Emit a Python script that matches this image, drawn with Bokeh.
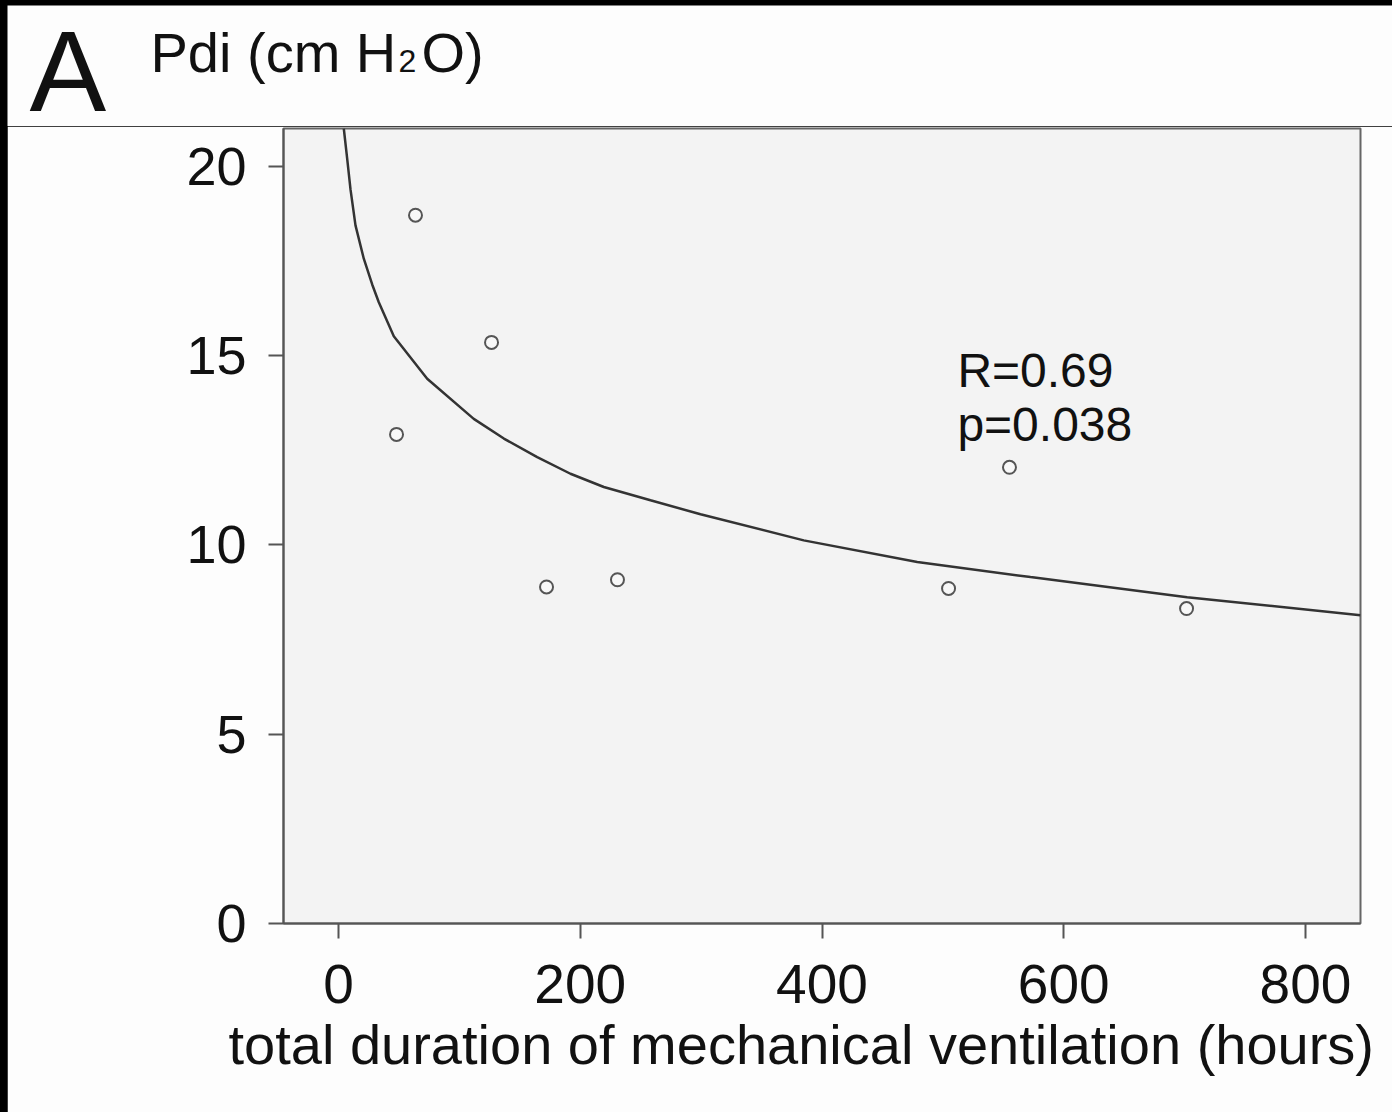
import re
from bokeh.plotting import figure
from bokeh.models import Range1d, FixedTicker, Label, Title
from bokeh.embed import file_html
from bokeh.resources import INLINE

# scatter data: total duration of mechanical ventilation (hours) vs Pdi (cm H2O)
hours = [48.0, 63.7, 126.6, 172.1, 230.8, 504.7, 555.1, 701.6]
pdi = [12.92, 18.71, 15.35, 8.89, 9.08, 8.85, 12.05, 8.32]

# fitted curve
curve_x = [4.38, 7.20, 9.93, 14.06, 20.93, 27.88, 33.34, 45.75, 73.38, 111.9,
           136.8, 164.4, 191.9, 219.5, 258.1, 299.5, 384.9, 478.8, 572.5,
           702.1, 845.5]
curve_y = [21.0, 20.20, 19.39, 18.44, 17.56, 16.88, 16.41, 15.51, 14.39, 13.33,
           12.81, 12.32, 11.88, 11.53, 11.18, 10.81, 10.12, 9.55, 9.15,
           8.62, 8.14]

x_ticks = [0, 200, 400, 600, 800]
y_ticks = [0, 5, 10, 15, 20]

FONT = "Liberation Sans"
INK = "#111111"

# ---- header strip holding the panel letter and the y-axis title ----
head = figure(width=1385, height=121, output_backend="svg", toolbar_location=None,
              x_range=Range1d(0, 1385), y_range=Range1d(0, 121),
              x_axis_type=None, y_axis_type=None,
              min_border_left=0, min_border_right=0, min_border_top=0,
              min_border_bottom=0)
head.background_fill_color = "#fdfdfd"
head.border_fill_color = "#fdfdfd"
head.outline_line_color = None
head.grid.visible = False


def hlab(x, y, text, size):
    head.add_layout(Label(x=x, y=y, text=text, text_font=FONT, text_font_size=size,
                          text_color=INK, text_baseline="alphabetic",
                          text_align="left"))


hlab(22, 56, "A", "115px")
hlab(143, 74, "Pdi (cm H", "56px")
hlab(391, 66, "2", "32px")
hlab(414, 74, "O)", "56px")

# ---- main scatter plot ----
p = figure(width=1385, height=986, output_backend="svg", toolbar_location=None,
           x_range=Range1d(-45.5, 845.5), y_range=Range1d(0, 21.0),
           min_border_left=276, min_border_right=32, min_border_top=2,
           min_border_bottom=189)
p.background_fill_color = "#f3f3f3"
p.border_fill_color = "#fdfdfd"
p.outline_line_color = "#666666"
p.outline_line_width = 2
p.grid.visible = False

for ax in (p.xaxis[0], p.yaxis[0]):
    ax.axis_line_color = "#555555"
    ax.axis_line_width = 2
    ax.major_tick_line_color = "#555555"
    ax.major_tick_line_width = 2
    ax.major_tick_out = 15
    ax.major_tick_in = 0
    ax.minor_tick_line_color = None
    ax.major_label_text_font = FONT
    ax.major_label_text_color = INK

p.xaxis.ticker = FixedTicker(ticks=x_ticks)
p.yaxis.ticker = FixedTicker(ticks=y_ticks)
p.xaxis.major_label_text_font_size = "55px"
p.yaxis.major_label_text_font_size = "54px"
p.xaxis.major_label_standoff = 26
p.yaxis.major_label_standoff = 22

p.line(curve_x, curve_y, line_color="#333333", line_width=2.5)
p.scatter(hours, pdi, marker="circle", size=13, fill_color="#f8f8f8",
          line_color="#555555", line_width=2)

# x title below the axis
p.add_layout(Title(text="total duration of mechanical ventilation (hours)",
                   align="left", offset=-55, text_font=FONT,
                   text_font_size="56px", text_font_style="normal",
                   text_color=INK, standoff=10), "below")

for txt, yv in (("R=0.69", 14.60), ("p=0.038", 13.17)):
    p.add_layout(Label(x=512.0, y=yv, text=txt, text_font=FONT,
                       text_font_size="48px", text_color=INK,
                       text_baseline="alphabetic"))

html = file_html([head, p], INLINE)
html = re.sub(r"<body[^>]*>", '<body style="margin:0;background:#000000">', html, count=1)
html = html.replace("</head>",
                    "<style>html,body{background:#000000;margin:0;}"
                    "body{padding:5px 0 0 7px;line-height:0;}</style></head>", 1)
open("out.html", "w").write(html)
